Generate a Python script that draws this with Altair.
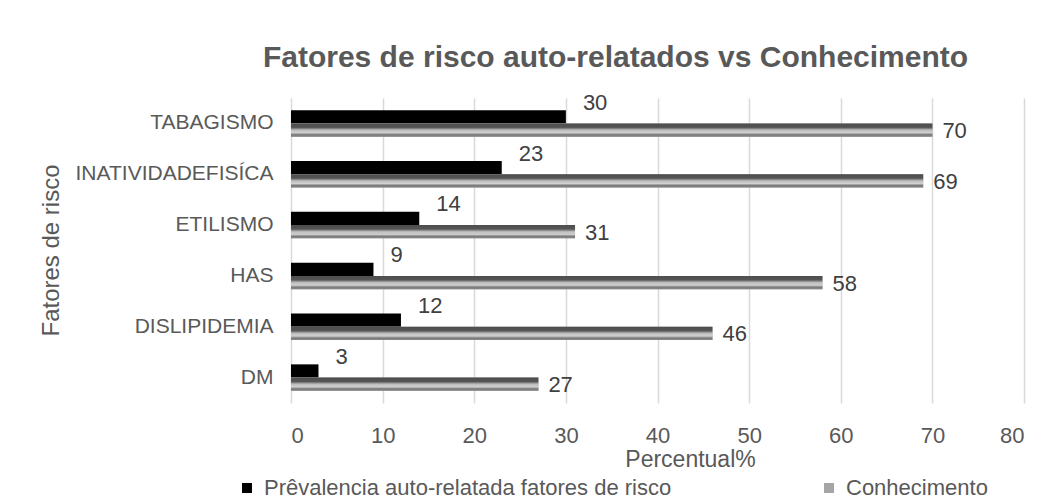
import altair as alt
import pandas as pd

categories = ["TABAGISMO", "INATIVIDADEFISÍCA", "ETILISMO", "HAS", "DISLIPIDEMIA", "DM"]
prevalencia = [30, 23, 14, 9, 12, 3]
conhecimento = [70, 69, 31, 58, 46, 27]
series_names = ["Prêvalencia auto-relatada fatores de risco", "Conhecimento"]
x_ticks = [0, 10, 20, 30, 40, 50, 60, 70, 80]

rows = []
for c, p, k in zip(categories, prevalencia, conhecimento):
    rows.append({"cat": c, "serie": series_names[0], "valor": p})
    rows.append({"cat": c, "serie": series_names[1], "valor": k})
df = pd.DataFrame(rows)

FONT = "Liberation Sans"
GREY = "#595959"

y_enc = alt.Y(
    "cat:N",
    sort=categories,
    scale=alt.Scale(paddingInner=0.48, paddingOuter=0.24),
    axis=alt.Axis(
        title="Fatores de risco",
        titleFont=FONT, titleFontSize=24, titleFontWeight="normal", titleColor=GREY,
        titleAngle=270, titleAlign="center", titleBaseline="middle",
        titleX=-240, titleY=152,
        labelFont=FONT, labelFontSize=21, labelColor=GREY, labelPadding=18, labelLimit=400,
        domain=False, ticks=False, grid=False,
    ),
)
yoff = alt.YOffset("serie:N", sort=series_names,
                   scale=alt.Scale(domain=series_names, paddingInner=0, paddingOuter=0))
x_enc = alt.X(
    "valor:Q",
    scale=alt.Scale(domain=[0, 80], nice=False),
    axis=alt.Axis(
        values=x_ticks, title="Percentual%",
        titleFont=FONT, titleFontSize=23, titleFontWeight="normal", titleColor=GREY,
        titleX=399, titleY=63, titleAlign="center", titleBaseline="alphabetic",
        labelFont=FONT, labelFontSize=22, labelColor=GREY, labelPadding=22,
        domain=False, ticks=False, grid=True, gridColor="#d9d9d9", gridWidth=1.5,
    ),
)

base = alt.Chart(df)

bars = base.mark_bar().encode(
    x=x_enc, y=y_enc, yOffset=yoff,
    color=alt.Color(
        "serie:N",
        scale=alt.Scale(domain=series_names, range=["#000000", "#a6a6a6"]),
        legend=alt.Legend(
            title=None, orient="none", legendX=-55, legendY=379,
            direction="horizontal", symbolType="square", symbolSize=100,
            symbolStrokeWidth=0, labelFont=FONT, labelFontSize=22, labelColor=GREY,
            labelOffset=6, columnPadding=146, padding=0, labelLimit=700,
        ),
    ),
)

gradient = alt.Gradient(
    gradient="linear", x1=0, y1=0, x2=0, y2=1,
    stops=[
        alt.GradientStop(offset=0, color="#4d4d4d"),
        alt.GradientStop(offset=0.3, color="#555555"),
        alt.GradientStop(offset=0.5, color="#bdbdbd"),
        alt.GradientStop(offset=0.7, color="#d0d0d0"),
        alt.GradientStop(offset=0.85, color="#7a7a7a"),
        alt.GradientStop(offset=1, color="#8a8a8a"),
    ],
)
pattern = base.transform_filter(alt.datum.serie == series_names[1]).mark_bar(fill=gradient).encode(
    x=x_enc, y=y_enc, yOffset=yoff
)

labels_prev = base.transform_filter(alt.datum.serie == series_names[0]).mark_text(
    align="left", baseline="middle", dx=17, dy=-14, font=FONT, fontSize=22, color="#404040"
).encode(x=x_enc, y=y_enc, yOffset=yoff, text="valor:Q")

labels_con = base.transform_filter(alt.datum.serie == series_names[1]).mark_text(
    align="left", baseline="middle", dx=10, dy=1, font=FONT, fontSize=22, color="#404040"
).encode(x=x_enc, y=y_enc, yOffset=yoff, text="valor:Q")

chart = alt.layer(bars, pattern, labels_prev, labels_con).properties(
    width=733, height=305,
    autosize=alt.AutoSizeParams(type="none"),
    padding={"left": 283, "top": 90, "right": 10, "bottom": 97},
    title=alt.TitleParams(
        "Fatores de risco auto-relatados vs Conhecimento",
        font=FONT, fontSize=30, fontWeight="bold", color=GREY,
        anchor="middle", dx=-42, dy=34, baseline="alphabetic", offset=29,
    ),
    background="white",
).configure_view(stroke=None)

chart.save("out.html", embed_options={"renderer": "svg", "actions": False})
